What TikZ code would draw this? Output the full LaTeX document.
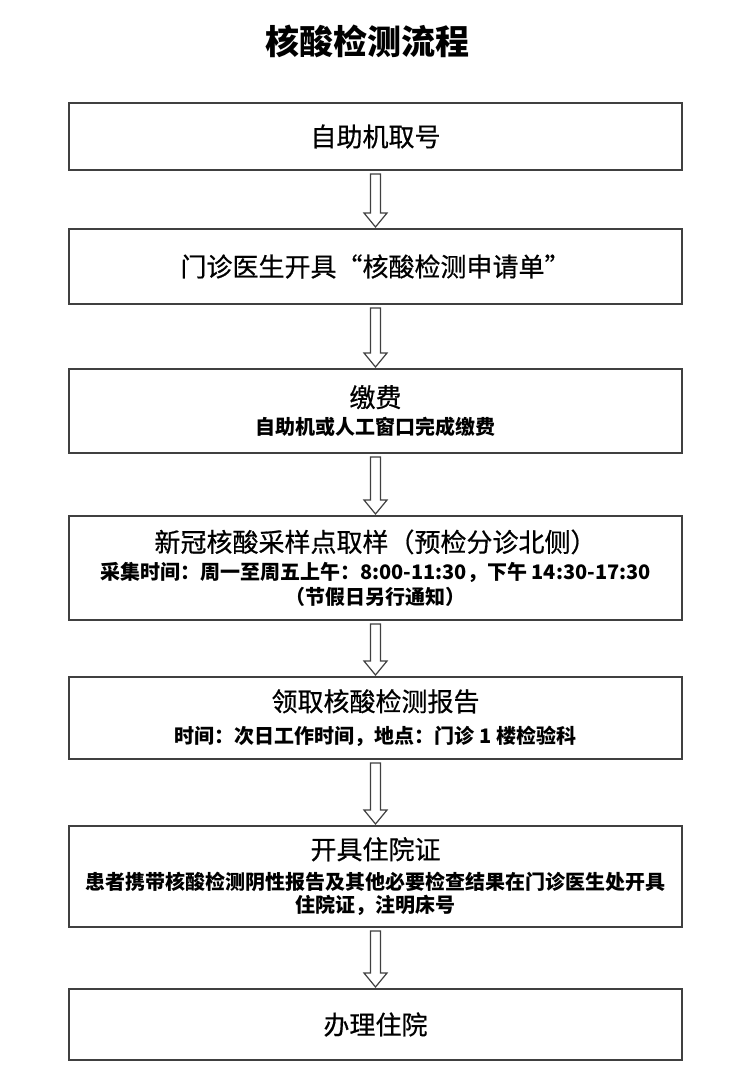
\documentclass[tikz,border=0pt]{standalone}
\usepackage{fontspec}
\setmainfont{Noto Sans CJK SC}
\newfontfamily\heavyfont[RawFeature={embolden=0.6}]{Noto Sans CJK SC}
\usepackage{tikz}
\usetikzlibrary{calc}
\usetikzlibrary{positioning}

\newcommand{\mainsize}{\fontsize{26}{30}\selectfont\heavyfont}
\newcommand{\subsize}{\fontsize{20}{24}\selectfont\bfseries}

\begin{document}
\begin{tikzpicture}[x=1pt,y=1pt,semithick]
	\tikzstyle{box}=[draw=black!75, line width=1.4pt, rectangle, minimum width=613pt, inner sep=3pt, outer sep=0pt, align=center, font=\fontsize{20}{24}\selectfont]
	\tikzstyle{hollow}=[draw=black!75, fill=white, line width=1.2pt, line join=miter, to path={
		($(\tikztostart.south)+(-5,-4)$) -- ($(\tikztostart.south)+(5,-4)$)
		-- ($(\tikztotarget.north)+(5,16)$) -- ($(\tikztotarget.north)+(11.5,16)$)
		-- ($(\tikztotarget.north)+(0,2)$) -- ($(\tikztotarget.north)+(-11.5,16)$)
		-- ($(\tikztotarget.north)+(-5,16)$) -- cycle}]
	\useasboundingbox (0,0) rectangle (750,-1089);

	\node (title) at (367,-41) {\fontsize{34}{40}\selectfont\bfseries 核酸检测流程};

	\node[box, minimum height=67pt] (take) at (375.5,-136.5) {\mainsize 自助机取号};
	\node[box, minimum height=75pt] (order) [below=59pt of take] {\mainsize 门诊医生开具“核酸检测申请单”};
	\node[box, minimum height=84pt] (pay) [below=65pt of order] {{\mainsize 缴费}\\[3.6pt]
		{\subsize 自助机或人工窗口完成缴费}};
	\node[box, minimum height=104pt] (sample) [below=63pt of pay] {{\mainsize 新冠核酸采样点取样（预检分诊北侧）}\\[3.6pt]
		{\subsize 采集时间：周一至周五上午：8:00-11:30，下午 14:30-17:30}\\[1pt]
		{\subsize （节假日另行通知）}};
	\node[box, minimum height=82pt] (report) [below=57pt of sample] {{\mainsize 领取核酸检测报告}\\[8.6pt]
		{\subsize 时间：次日工作时间，地点：门诊 1 楼检验科}};
	\node[box, minimum height=101pt] (permit) [below=67pt of report] {{\mainsize 开具住院证}\\[6.6pt]
		{\subsize 患者携带核酸检测阴性报告及其他必要检查结果在门诊医生处开具}\\[-1pt]
		{\subsize 住院证，注明床号}};
	\node[box, minimum height=71pt] (admit) [below=62pt of permit] {\mainsize 办理住院};

	\path
		(take) edge[hollow] (order)
		(order) edge[hollow] (pay)
		(pay) edge[hollow] (sample)
		(sample) edge[hollow] (report)
		(report) edge[hollow] (permit)
		(permit) edge[hollow] (admit);
\end{tikzpicture}
\end{document}
